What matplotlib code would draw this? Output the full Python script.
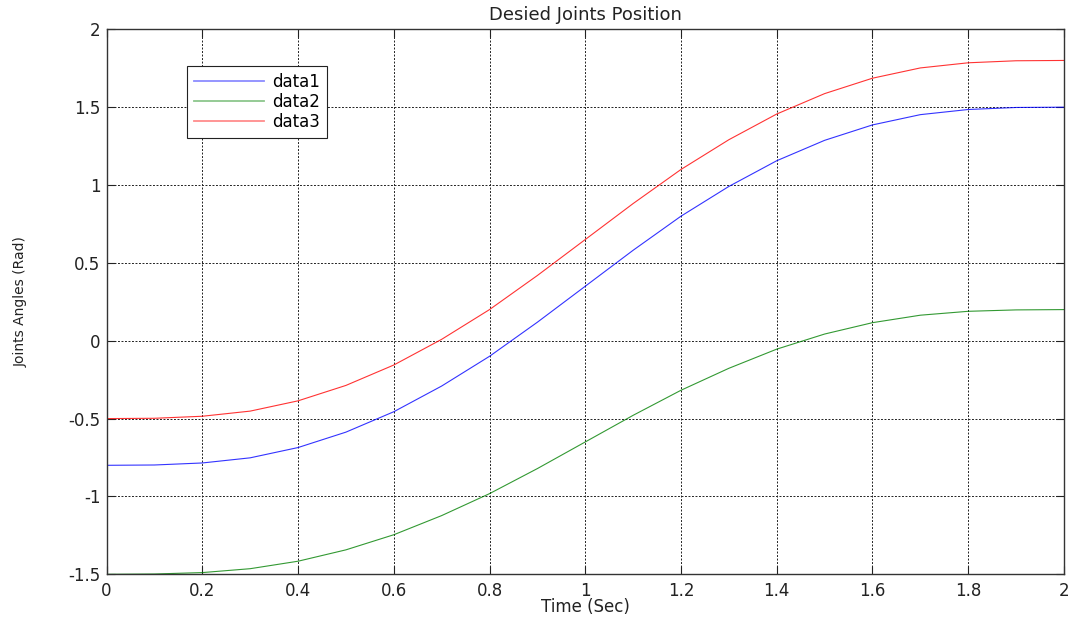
import matplotlib
matplotlib.use("Agg")
import matplotlib.pyplot as plt

# Desired joint trajectories (rad) sampled every 0.1 s
time_s = [0.0, 0.1, 0.2, 0.3, 0.4, 0.5, 0.6, 0.7, 0.8, 0.9, 1.0,
          1.1, 1.2, 1.3, 1.4, 1.5, 1.6, 1.7, 1.8, 1.9, 2.0]
data1 = [-0.800, -0.798, -0.785, -0.752, -0.686, -0.587, -0.456, -0.291, -0.100, 0.119, 0.350,
         0.581, 0.800, 0.991, 1.156, 1.287, 1.386, 1.452, 1.485, 1.498, 1.500]
data2 = [-1.500, -1.498, -1.489, -1.464, -1.416, -1.343, -1.246, -1.123, -0.982, -0.821, -0.650,
         -0.479, -0.318, -0.177, -0.054, 0.043, 0.116, 0.164, 0.189, 0.198, 0.200]
data3 = [-0.500, -0.498, -0.485, -0.452, -0.386, -0.287, -0.156, 0.009, 0.200, 0.419, 0.650,
         0.881, 1.100, 1.291, 1.456, 1.587, 1.686, 1.752, 1.785, 1.798, 1.800]
series_names = ["data1", "data2", "data3"]
series_colors = ["#0000ff", "#008000", "#ff0000"]

x_ticks = [0, 0.2, 0.4, 0.6, 0.8, 1, 1.2, 1.4, 1.6, 1.8, 2]
x_tick_labels = ["0", "0.2", "0.4", "0.6", "0.8", "1", "1.2", "1.4", "1.6", "1.8", "2"]
y_ticks = [-1.5, -1, -0.5, 0, 0.5, 1, 1.5, 2]
y_tick_labels = ["-1.5", "-1", "-0.5", "0", "0.5", "1", "1.5", "2"]

plt.rcParams["font.family"] = ["DejaVu Sans"]
text_color = "#222222"

fig = plt.figure(figsize=(10.72, 6.21), dpi=100)
ax = fig.add_axes([0.0994, 0.0752, 0.8931, 0.8776])

for vals, name, col in zip([data1, data2, data3], series_names, series_colors):
    ax.plot(time_s, vals, color=col, lw=0.8, alpha=0.8, label=name)

ax.set_xlim(0, 2)
ax.set_ylim(-1.5, 2)
ax.set_xticks(x_ticks)
ax.set_xticklabels(x_tick_labels)
ax.set_yticks(y_ticks)
ax.set_yticklabels(y_tick_labels)

ax.tick_params(direction="in", length=6, width=0.8, labelsize=12,
               top=True, right=True, colors=text_color)
ax.tick_params(axis="x", pad=5.5)
ax.tick_params(axis="y", pad=4.5)
ax.grid(True, color="#222222", linestyle=(0, (2, 1.6)), linewidth=0.7)
for sp in ax.spines.values():
    sp.set_color("#333333")
    sp.set_linewidth(1.0)

ax.set_title("Desied Joints Position", fontsize=13, color=text_color, pad=7)
ax.set_xlabel("Time (Sec)", fontsize=12, color=text_color)
ax.xaxis.set_label_coords(0.5, -0.044)
ax.set_ylabel("Joints Angles (Rad)", fontsize=10, color=text_color)
ax.yaxis.set_label_coords(-0.082, 0.5)

leg = ax.legend(loc="upper left", bbox_to_anchor=(0.0838, 0.9332), fontsize=12,
                handlelength=4.2, handletextpad=0.46, labelspacing=0.1,
                borderpad=0.45, borderaxespad=0, fancybox=False, framealpha=1)
leg.get_frame().set_edgecolor("#222222")
leg.get_frame().set_linewidth(0.8)
for h in leg.get_lines():
    h.set_linewidth(1.3)
    h.set_alpha(0.45)

fig.savefig("out.png", dpi=100)
